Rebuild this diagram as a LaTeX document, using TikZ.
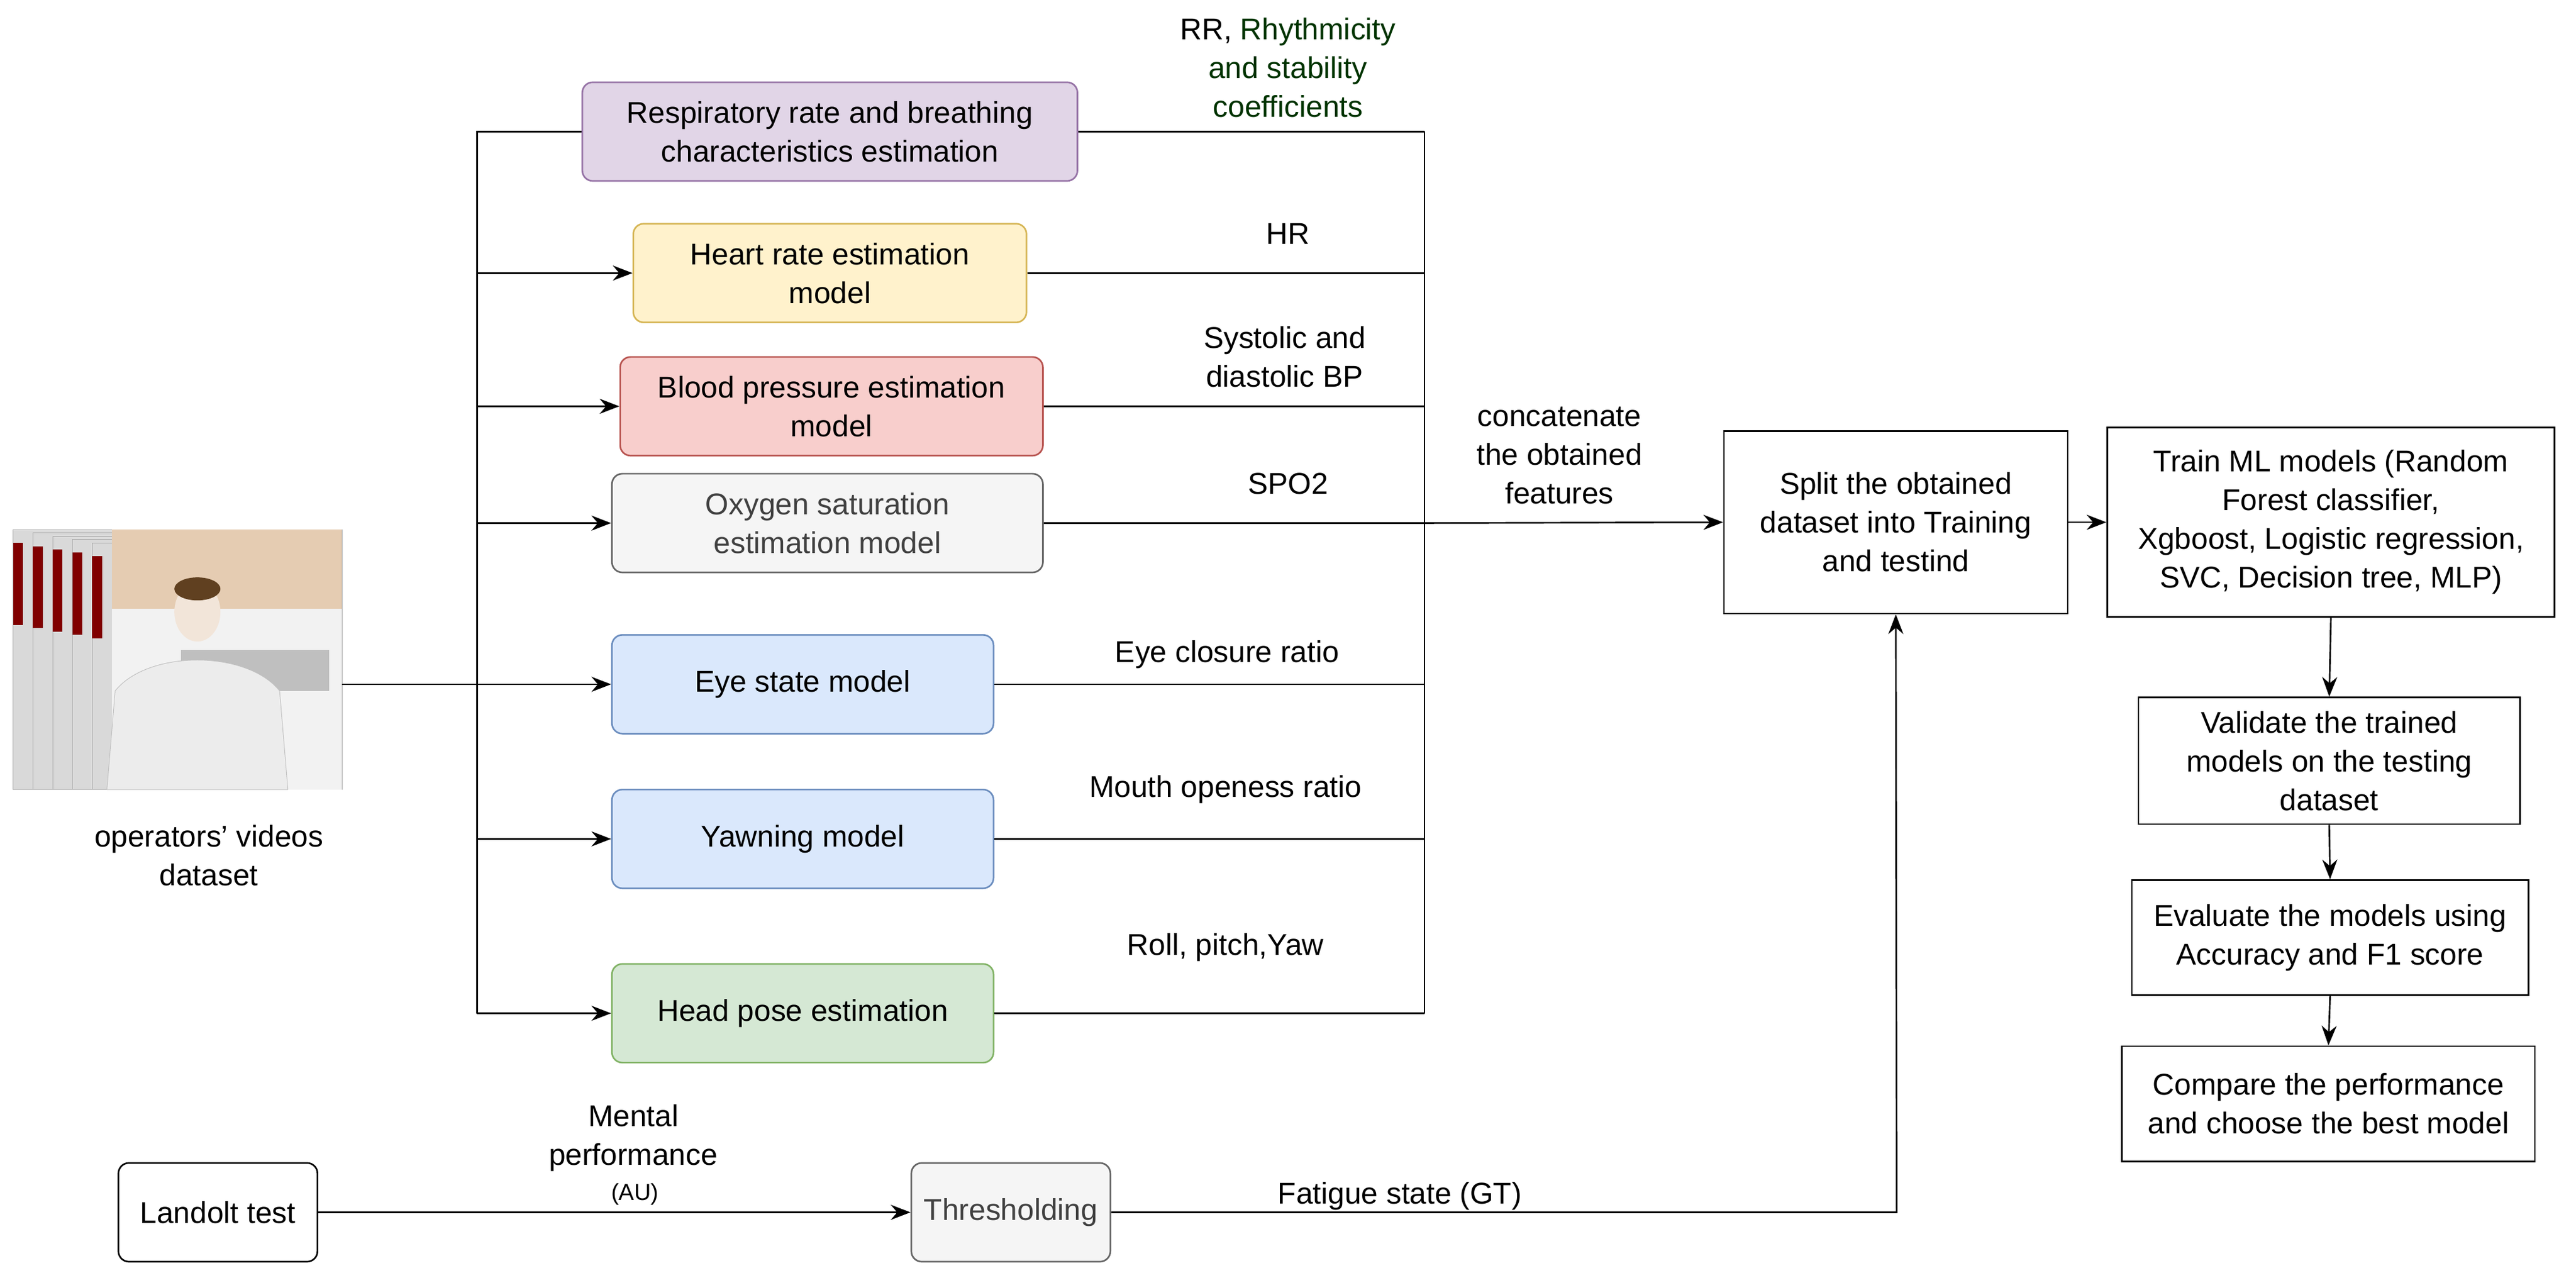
\documentclass[tikz,border=0pt]{standalone}
\usepackage{fontspec}
\setmainfont{Liberation Sans}
\usetikzlibrary{arrows.meta}
\definecolor{pf}{HTML}{E1D5E7}\definecolor{ps}{HTML}{9673A6}
\definecolor{yf}{HTML}{FFF2CC}\definecolor{ys}{HTML}{D6B656}
\definecolor{rf}{HTML}{F8CECC}\definecolor{rs}{HTML}{B85450}
\definecolor{gf}{HTML}{F5F5F5}\definecolor{gs}{HTML}{666666}
\definecolor{bf}{HTML}{DAE8FC}\definecolor{bs}{HTML}{6C8EBF}
\definecolor{nf}{HTML}{D5E8D4}\definecolor{ns}{HTML}{82B366}
\begin{document}
\begin{tikzpicture}[x=1mm,y=-1mm,line width=2.8pt,
 every node/.style={font=\fontsize{52}{67}\selectfont,align=center},
 box/.style={draw,rounded corners=18pt,inner sep=0pt},
 sq/.style={draw,inner sep=0pt},
 lab/.style={inner sep=0pt},
 arr/.style={-{Stealth[length=34pt,width=26pt]}}]
\useasboundingbox (0,0) rectangle (1566,776.6);
% photo placeholder
\foreach \i in {0,1,2,3,4}{
  \fill[gray!30,draw=gray!70,line width=1pt] (8+\i*12,322+\i*2) rectangle (208,480);
  \fill[red!50!black] (8+\i*12,330+\i*2) rectangle (14+\i*12,380+\i*2);}
\fill[white!90!gray] (68,322) rectangle (208,480);
\fill[brown!40!white] (68,322) rectangle (208,370);
\fill[gray!50] (110,395) rectangle (200,420);
\fill[white!80!brown] (120,372) ellipse[x radius=14,y radius=18];
\fill[brown!50!black] (120,358) ellipse[x radius=14,y radius=7];
\fill[white!85!gray,draw=gray!50,line width=1pt] (70,420) .. controls (90,395) and (150,395) .. (170,420) -- (175,480) -- (65,480) -- cycle;
\coordinate (ph) at (208,416);
\node[lab] (phl) at (127,520) {operators' videos\\dataset};
% boxes
\node[box,fill=pf,draw=ps,minimum width=301mm,minimum height=60mm] (rr) at (504.5,80) {Respiratory rate and breathing\\characteristics estimation};
\node[box,fill=yf,draw=ys,minimum width=239mm,minimum height=60mm] (hr) at (504.5,166) {Heart rate estimation\\model};
\node[box,fill=rf,draw=rs,minimum width=257mm,minimum height=60mm] (bp) at (505.5,247) {Blood pressure estimation\\model};
\node[box,fill=gf,draw=gs,text=black!75,minimum width=262mm,minimum height=60mm] (ox) at (503,318) {Oxygen saturation\\estimation model};
\node[box,fill=bf,draw=bs,minimum width=232mm,minimum height=60mm] (eye) at (488,416) {Eye state model};
\node[box,fill=bf,draw=bs,minimum width=232mm,minimum height=60mm] (yaw) at (488,510) {Yawning model};
\node[box,fill=nf,draw=ns,minimum width=232mm,minimum height=60mm] (hp) at (488,616) {Head pose estimation};
% left bus
\coordinate (lt) at (290,80); \coordinate (lb) at (290,616);
\draw (rr.west) -- (lt) -- (lb);
\draw (ph) -- (290,416);
\foreach \n in {hr,bp,ox,eye,yaw,hp}{\draw[arr] (290,0 |- \n.west) -- (\n.west);}
% right bus
\coordinate (rt) at (866,80); \coordinate (rb) at (866,616);
\draw (rt) -- (rb);
\foreach \n in {rr,hr,bp,ox,eye,yaw,hp}{\draw (\n.east) -- (866,0 |- \n.east);}
% labels
\node[lab] at (783,41) {RR, {\color{black!80!green}Rhythmicity}\\{\color{black!80!green}and stability}\\{\color{black!80!green}coefficients}};
\node[lab] at (783,142) {HR};
\node[lab] at (781,217) {Systolic and\\diastolic BP};
\node[lab] at (783,294) {SPO2};
\node[lab] at (746,398) {Eye closure ratio};
\node[lab] at (745,480) {Mouth openess ratio};
\node[lab] at (745,576) {Roll, pitch,Yaw};
\node[lab] at (948,277) {concatenate\\the obtained\\features};
% right pipeline
\node[sq,minimum width=209mm,minimum height=111mm] (sp) at (1152.5,317.5) {Split the obtained\\dataset into Training\\and testind};
\node[sq,minimum width=272mm,minimum height=115mm] (tr) at (1417,317.5) {Train ML models (Random\\Forest classifier,\\Xgboost, Logistic regression,\\SVC, Decision tree, MLP)};
\node[sq,minimum width=232mm,minimum height=77mm] (va) at (1416,462.5) {Validate the trained\\models on the testing\\dataset};
\node[sq,minimum width=241mm,minimum height=70mm] (ev) at (1416.5,570) {Evaluate the models using\\Accuracy and F1 score};
\node[sq,minimum width=251mm,minimum height=70mm] (cp) at (1415.5,671) {Compare the performance\\and choose the best model};
\draw[arr] (866,318) -- (sp.west);
\draw[arr] (sp.east) -- (tr.west);
\draw[arr] (tr.south) -- (va.north);
\draw[arr] (va.south) -- (ev.north);
\draw[arr] (ev.south) -- (cp.north);
% bottom
\node[box,minimum width=121mm,minimum height=60mm] (lan) at (132.5,737) {Landolt test};
\node[box,fill=gf,draw=gs,text=black!75,minimum width=121mm,minimum height=60mm] (th) at (614.5,737) {Thresholding};
\draw[arr] (lan.east) -- (th.west);
\node[lab] at (385,692) {Mental\\performance};
\node[lab,font=\fontsize{40}{48}\selectfont] at (386,726) {(AU)};
\draw[arr] (th.east) -- (1153,737) -- (sp.south);
\node[lab] at (851,727) {Fatigue state (GT)};
\end{tikzpicture}
\end{document}
